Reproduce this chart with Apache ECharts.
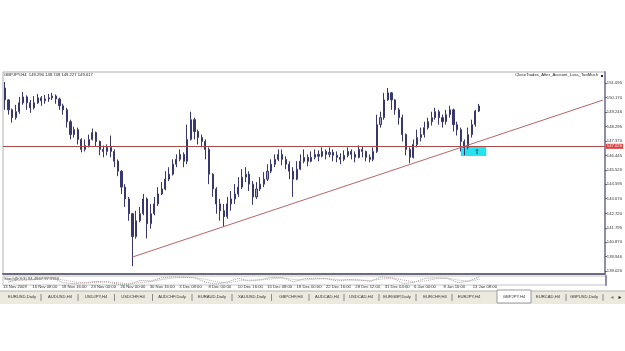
<!DOCTYPE html>
<html>
<head>
<meta charset="utf-8">
<script src="https://cdn.jsdelivr.net/npm/echarts@6/dist/echarts.min.js"></script>
<style>
html, body { margin: 0; padding: 0; background: #fff; }
#main { width: 625px; height: 351px; }
</style>
</head>
<body>
<div id="main"></div>
<script>
// GBPJPY H4, values (each entry ~2 H4 bars): [open, close, low, high]
var candles = [
  [150.77,150.01,149.37,151.16],[150.01,149.37,149.06,150.05],[149.37,148.87,148.55,149.45],[148.87,149.25,148.74,149.69],
  [149.25,149.82,149.12,150.20],[149.82,150.20,149.70,150.52],[150.20,149.82,149.37,150.30],[149.82,149.50,149.18,150.01],
  [149.50,149.82,149.40,150.26],[149.82,150.14,149.75,150.39],[150.14,149.95,149.63,150.26],[149.95,150.07,149.76,150.33],
  [150.07,150.14,149.88,150.39],[150.14,150.26,150.00,150.46],[150.26,150.07,149.76,150.36],[150.07,149.63,149.37,150.15],
  [149.63,149.37,149.06,149.76],[149.37,148.61,148.23,149.50],[148.61,147.78,147.47,148.74],[147.78,148.10,147.59,148.29],
  [148.10,147.47,147.15,148.23],[147.47,146.83,146.64,147.55],[146.83,147.08,146.70,147.47],[147.08,147.47,146.96,147.78],
  [147.47,147.91,147.40,148.17],[147.91,147.34,147.02,147.98],[147.34,146.83,146.45,147.40],[146.83,146.70,146.32,147.08],
  [146.70,146.96,146.45,147.15],[146.96,146.70,146.32,147.72],[146.70,146.07,145.69,146.83],[146.07,145.43,145.11,146.19],
  [145.43,144.41,143.97,145.50],[144.41,143.65,143.14,144.60],[143.65,142.70,142.25,143.78],[142.70,141.23,139.33,142.76],
  [141.23,142.25,141.10,142.89],[142.25,142.70,142.15,143.14],[142.70,143.65,142.60,143.97],[143.65,142.06,141.11,143.75],
  [142.06,142.70,141.74,143.33],[142.70,143.33,142.60,143.78],[143.33,143.97,143.20,144.41],[143.97,144.29,143.90,144.73],
  [144.29,144.92,144.20,145.43],[144.92,145.24,144.80,145.69],[145.24,145.88,145.15,146.19],[145.88,146.19,145.69,146.51],
  [146.19,146.51,146.07,146.83],[146.51,146.07,145.69,146.64],[146.07,147.47,145.88,148.42],[147.47,148.74,147.40,149.25],
  [148.74,147.98,147.47,148.87],[147.98,147.59,147.15,148.10],[147.59,147.34,146.96,147.78],[147.34,146.83,146.19,147.47],
  [146.83,145.24,144.60,146.96],[145.24,144.29,143.78,145.30],[144.29,143.33,142.70,144.41],[143.33,142.89,142.25,143.65],
  [142.89,142.51,141.87,143.33],[142.51,143.33,142.38,143.78],[143.33,143.65,142.89,144.16],[143.65,143.97,143.33,144.60],
  [143.97,144.41,143.78,145.05],[144.41,145.05,144.29,145.56],[145.05,145.24,144.73,145.69],[145.24,144.60,144.16,145.43],
  [144.60,143.78,143.27,144.80],[143.78,144.29,143.65,144.73],[144.29,144.60,144.16,145.05],[144.60,144.92,144.41,145.37],
  [144.92,145.43,144.80,145.88],[145.43,145.88,145.30,146.19],[145.88,146.19,145.69,146.51],[146.19,146.51,146.07,146.83],
  [146.51,146.19,145.81,146.83],[146.19,145.88,145.56,146.39],[145.88,145.43,144.92,146.07],[145.43,144.92,143.78,145.69],
  [144.92,145.56,144.85,146.07],[145.56,146.07,145.50,146.51],[146.07,146.32,145.94,146.83],[146.32,146.07,145.75,146.51],
  [146.07,146.32,146.00,146.70],[146.32,146.51,146.19,146.83],[146.51,146.39,146.07,146.77],[146.39,146.70,146.32,146.96],
  [146.70,146.51,146.19,146.83],[146.51,146.64,146.32,146.96],[146.64,146.45,146.07,146.83],[146.45,146.32,146.00,146.70],
  [146.32,146.19,145.88,146.58],[146.19,146.45,146.07,146.77],[146.45,146.70,146.32,146.96],[146.70,146.51,146.19,146.83],
  [146.51,146.32,146.00,146.70],[146.32,146.83,146.25,147.08],[146.83,146.70,146.32,147.02],[146.70,146.32,146.07,146.75],
  [146.32,146.19,146.00,146.51],[146.19,146.70,146.07,146.96],[146.70,148.42,146.60,149.06],[148.42,148.87,148.23,149.25],
  [148.87,150.01,148.74,150.46],[150.01,150.46,149.95,150.77],[150.46,150.01,149.37,150.52],[150.01,149.37,149.06,150.05],
  [149.37,148.87,148.42,149.50],[148.87,147.78,147.34,149.06],[147.78,146.83,146.45,147.85],[146.83,146.32,145.94,146.96],
  [146.32,147.15,146.25,147.47],[147.15,147.59,146.96,148.10],[147.59,147.78,147.34,148.23],[147.78,148.23,147.59,148.61],
  [148.23,148.61,148.10,148.87],[148.61,148.87,148.36,149.25],[148.87,149.25,148.74,149.50],[149.25,148.87,148.42,149.37],
  [148.87,148.61,148.23,149.06],[148.61,149.06,148.42,149.37],[149.06,149.37,148.87,149.63],[149.37,148.42,147.98,149.45],
  [148.42,148.10,147.72,148.61],[148.10,147.34,146.70,148.23],[147.34,146.96,146.45,147.47],[146.96,147.78,146.83,148.23],
  [147.78,148.42,147.59,148.74],[148.42,149.29,148.29,149.37],[149.290,149.617,149.227,149.748]
];

// stochastic lines in the small bottom window (one point per 3 candles)
var stochK = [30,75,55,75,80,25,15,25,40,35,10,8,50,45,80,90,85,80,30,10,35,75,45,60,85,80,35,70,75,70,45,60,55,40,90,80,15,30,75,80,75,25,45,95];
var stochD = [45,50,62,65,75,55,35,22,28,35,25,15,25,38,60,78,88,82,62,35,22,45,55,55,68,80,62,55,65,72,60,55,55,50,65,78,55,35,45,70,78,55,42,65];

var priceTicks = [151.095,150.170,149.246,148.295,147.370,146.445,145.520,144.595,143.670,142.720,141.795,140.870,139.946,139.020];
var dateLabels = ['13 Nov 2009','16 Nov 08:00','18 Nov 16:00','23 Nov 00:00','26 Nov 00:00','30 Nov 16:00','3 Dec 08:00',
  '8 Dec 00:00','10 Dec 16:00','15 Dec 08:00','18 Dec 00:00','22 Dec 16:00','28 Dec 12:00','31 Dec 04:00',
  '6 Jan 00:00','8 Jan 16:00','13 Jan 08:00'];

var lastPrice = 149.617;
var hLine = 147.026;
var trendFrom = [35, 139.92];
var trendTo = [164, 150.00];
var boxFrom = [125, 147.05];
var boxTo = [132, 146.41];

var tabNames = ['EURUSD,Daily','AUDUSD,H4','USDJPY,H4','USDCHF,H4','AUDCHF,Daily','EURAUD,Daily','XAUUSD,Daily','GBPCHF,H4',
  'AUDCAD,H4','USDCAD,H4','EURGBP,Daily','EURCHF,H4','EURJPY,H4','GBPJPY,H4','EURCAD,H4','GBPUSD,Daily'];
var tabX = [22,60,96,133,172,212,252,291,327,361,397,435,469,514,548,584];
var activeTab = 13;

var slots = 165;
var cats = [];
for (var i = 0; i < slots; i++) cats.push(String(i));
var stochCats = [];
for (var j = 0; j < 55; j++) stochCats.push(String(j));

var font = 'Liberation Sans';
var small = 4.2;

var graphics = [
  { type: 'text', left: 4, top: 73, style: { text: 'GBPJPY,H4  149.290 149.748 149.227 149.617', fill: '#222', font: small + 'px ' + font } },
  { type: 'text', right: 27, top: 73, style: { text: 'CloseTrades_After_Account_Loss_TooMuch', fill: '#222', font: small + 'px ' + font } },
  { type: 'rect', shape: { x: 601, y: 75, width: 2, height: 2 }, style: { fill: '#222' } },
  { type: 'text', left: 4, top: 277, style: { text: 'Stoch(5,3,3) 94.4967 97.9916', fill: '#333', font: small + 'px ' + font } },
  { type: 'rect', shape: { x: 0, y: 291, width: 625, height: 13 }, style: { fill: '#ece9df' } },
  { type: 'line', shape: { x1: 0, y1: 291, x2: 625, y2: 291 }, style: { stroke: '#b8b4a8', lineWidth: 1 } }
];
tabNames.forEach(function (name, k) {
  if (k === activeTab) {
    graphics.push({ type: 'rect', shape: { x: tabX[k] - 17, y: 290, width: 34, height: 13 }, style: { fill: '#fff', stroke: '#9a9a9a', lineWidth: 1 } });
  } else if (k + 1 !== activeTab) {
    var nx = k + 1 < tabX.length ? (tabX[k] + tabX[k + 1]) / 2 : 603;
    graphics.push({ type: 'line', shape: { x1: nx, y1: 294, x2: nx, y2: 301 }, style: { stroke: '#8a8a8a', lineWidth: 1 } });
  }
  graphics.push({ type: 'text', x: tabX[k], y: 297, style: { text: name, fill: '#333', font: small + 'px ' + font, align: 'center', verticalAlign: 'middle' } });
});
graphics.push({ type: 'text', x: 612, y: 297, style: { text: '◂', fill: '#888', font: '6px DejaVu Sans', align: 'center', verticalAlign: 'middle' } });
graphics.push({ type: 'text', x: 620, y: 297, style: { text: '▸', fill: '#222', font: '6px DejaVu Sans', align: 'center', verticalAlign: 'middle' } });

var chart = echarts.init(document.getElementById('main'));
chart.setOption({
  animation: false,
  backgroundColor: '#fff',
  grid: [
    { left: 3, right: 19, top: 72, height: 202, show: true, borderColor: '#b0b0b0', borderWidth: 1, backgroundColor: '#fff' },
    { left: 3, right: 19, top: 276, height: 9, show: true, borderColor: '#c4c4c4', borderWidth: 1 }
  ],
  xAxis: [
    { type: 'category', gridIndex: 0, data: cats, boundaryGap: true,
      axisLine: { show: true, lineStyle: { color: '#6c6c7c', width: 2 } },
      axisTick: { show: false }, axisLabel: { show: false }, splitLine: { show: false } },
    { type: 'category', gridIndex: 0, data: cats, boundaryGap: false, position: 'bottom',
      axisLine: { show: false }, axisTick: { show: false }, splitLine: { show: false },
      axisLabel: {
        show: true, margin: 11, align: 'left', color: '#333', fontSize: small, fontFamily: font,
        interval: function (idx) { return idx % 8 === 0 && idx / 8 < dateLabels.length; },
        formatter: function (v, idx) { return dateLabels[idx / 8] || ''; }
      } },
    { type: 'category', gridIndex: 1, data: stochCats, boundaryGap: true, show: false }
  ],
  yAxis: [
    { type: 'value', gridIndex: 0, position: 'right', min: 138.83, max: 151.80, scale: true,
      splitLine: { show: false },
      axisLine: { show: true, lineStyle: { color: '#8e8eaa', width: 2 } },
      axisTick: { show: true, length: 2, customValues: priceTicks, lineStyle: { color: '#555' } },
      axisLabel: { show: true, margin: 2, customValues: priceTicks, color: '#333', fontSize: small, fontFamily: font,
        formatter: function (v) { return v.toFixed(3); } } },
    { type: 'value', gridIndex: 1, position: 'right', min: 0, max: 100,
      splitLine: { show: false }, axisTick: { show: false }, axisLabel: { show: false },
      axisLine: { show: true, lineStyle: { color: '#8e8eaa', width: 2 } } }
  ],
  series: [
    {
      type: 'candlestick', xAxisIndex: 0, yAxisIndex: 0, data: candles, barWidth: 1.6,
      itemStyle: { color: '#a8a8c4', color0: '#38386e', borderColor: '#38386e', borderColor0: '#38386e', borderWidth: 1 },
      markArea: {
        silent: true,
        itemStyle: { color: '#25e2ec', opacity: 1 },
        label: { show: true, position: 'inside', formatter: '⇧', color: '#203050', fontSize: 7, offset: [3, 1] },
        data: [[{ coord: boxFrom }, { coord: boxTo }]]
      },
      markLine: {
        silent: true, symbol: ['none', 'none'],
        data: [
          { yAxis: hLine, lineStyle: { color: '#a84a48', width: 1, type: 'solid' },
            label: { show: true, position: 'end', distance: 1, formatter: hLine.toFixed(3), color: '#fff',
              backgroundColor: '#e03a3a', padding: [1, 1, 0, 1], fontSize: small, fontFamily: font } },
          { yAxis: lastPrice, lineStyle: { opacity: 0 },
            label: { show: true, position: 'end', distance: 1, formatter: lastPrice.toFixed(3), color: '#fff',
              backgroundColor: '#16164e', padding: [1, 1, 0, 1], fontSize: small, fontFamily: font } },
          [{ coord: trendFrom, lineStyle: { color: '#b86466', width: 1, type: 'solid' }, label: { show: false } },
           { coord: trendTo }]
        ]
      }
    },
    { type: 'line', xAxisIndex: 2, yAxisIndex: 1, data: stochK, symbol: 'none',
      lineStyle: { color: '#8a9a96', width: 1, type: 'dotted' } },
    { type: 'line', xAxisIndex: 2, yAxisIndex: 1, data: stochD, symbol: 'none',
      lineStyle: { color: '#c0a8a8', width: 1, type: 'dotted' } }
  ],
  graphic: graphics
});
</script>
</body>
</html>
